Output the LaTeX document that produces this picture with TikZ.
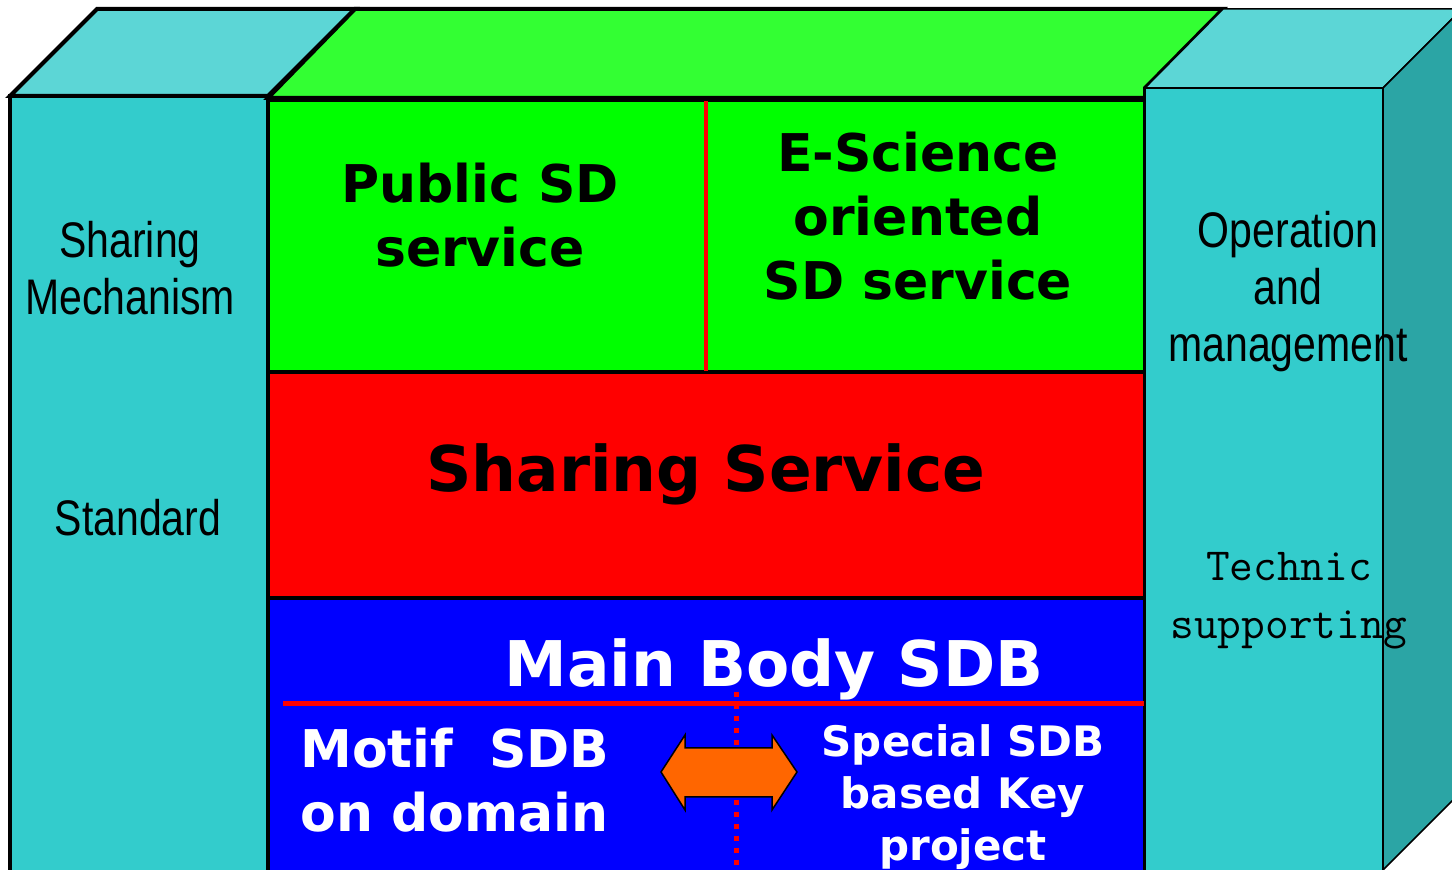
\documentclass[tikz,border=0pt]{standalone}
\usepackage{fontspec}
\setmainfont{DejaVu Sans}
\newfontfamily\narrowsans[FakeStretch=0.82]{Liberation Sans}
\definecolor{cyanfront}{HTML}{33CCCC}
\definecolor{cyantop}{HTML}{5CD6D6}
\definecolor{cyanside}{HTML}{2BA5A5}
\definecolor{greenfront}{HTML}{00FF00}
\definecolor{greentop}{HTML}{33FF33}
\definecolor{orangearrow}{HTML}{FF6600}
\begin{document}
\begin{tikzpicture}[x=0.5pt,y=-0.5pt,
  heavy/.style={draw=black,line width=2pt,line join=miter},
  light/.style={draw=black,line width=0.75pt,line join=miter},
  sidelabel/.style={inner sep=0pt,align=center,font=\fontsize{25}{28.5}\selectfont\narrowsans},
  monolabel/.style={inner sep=0pt,align=center,font=\fontsize{23}{29}\selectfont\ttfamily},
  darklabel/.style={inner sep=0pt,align=center,text=black},
  lightlabel/.style={inner sep=0pt,text=white}]
\useasboundingbox (0,0) rectangle (1452,870);

% left pillar
\draw[heavy,fill=cyantop] (10,96) -- (97,9) -- (355,9) -- (268,96) -- cycle;
\draw[heavy,fill=cyanfront] (10,96) rectangle (268,872);

% central block: top face and three layers
\draw[heavy,fill=greentop] (268,98) -- (355,9) -- (1223,9) -- (1145,88) -- (1145,98) -- cycle;
\draw[heavy,fill=greenfront] (268,100) rectangle (1145,372);
\draw[heavy,fill=red] (268,372) rectangle (1145,598);
\draw[heavy,fill=blue] (268,598) rectangle (1145,872);
\draw[red,line width=2pt] (706,101) -- (706,371);
\draw[red,line width=2.5pt] (283,704) -- (1145,704);
\draw[red,line width=2.5pt,dash pattern=on 2.5pt off 3.5pt] (736,692) -- (736,870);

% right pillar
\draw[light,fill=cyantop] (1145,88) -- (1223,9) -- (1462,9) -- (1383,88) -- cycle;
\draw[light,fill=cyanside] (1383,88) -- (1462,9) -- (1462,791) -- (1383,870) -- cycle;
\draw[light,fill=cyanfront] (1145,88) rectangle (1383,872);

% exchange arrow between the two sub-bases
\draw[black,line width=0.75pt,fill=orangearrow,line join=miter]
  (661,772) -- (685,735) -- (685,748) -- (772,748) -- (772,735) -- (797,772)
  -- (772,810) -- (772,797) -- (685,797) -- (685,810) -- cycle;

% labels
\node[sidelabel] (mech) at (130,268) {Sharing\\Mechanism};
\node[sidelabel] (std) at (138,518) {Standard};
\node[sidelabel] (oper) at (1288,292) {Operation\\and\\management};
\node[monolabel] (tech) at (1289,601) {Technic\\supporting};

\node[darklabel,font=\fontsize{26}{32}\selectfont\bfseries] (pub) at (480,215) {Public SD\\service};
\node[darklabel,font=\fontsize{26}{32}\selectfont\bfseries] (esci) at (918,216) {E-Science\\oriented\\SD service};
\node[darklabel,font=\fontsize{31.5}{36}\selectfont\bfseries] (share) at (706,474) {Sharing Service};

\node[lightlabel,font=\fontsize{31.5}{36}\selectfont\bfseries] (main) at (774,669) {Main Body SDB};
\node[lightlabel,align=left,anchor=west,font=\fontsize{26}{32}\selectfont\bfseries] (motif) at (300,780) {Motif\ \ SDB\\on domain};
\node[lightlabel,align=center,font=\fontsize{21}{26}\selectfont\bfseries] (spec) at (963,797) {Special SDB\\based Key\\project};
\end{tikzpicture}
\end{document}
